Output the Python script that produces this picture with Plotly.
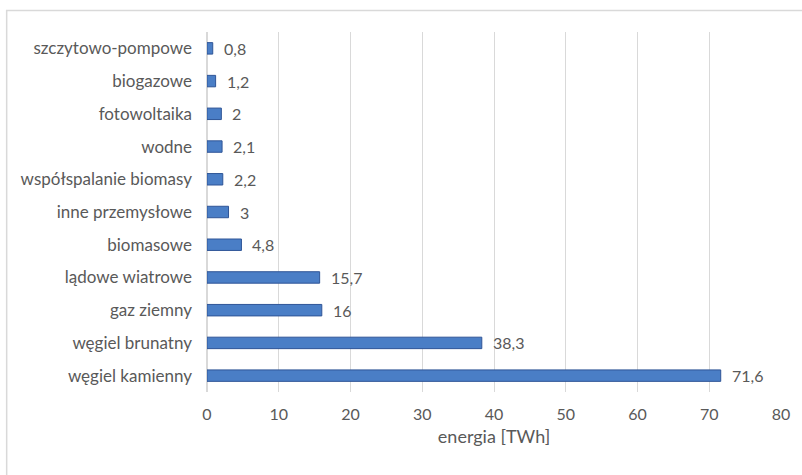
import plotly.graph_objects as go

# Energy production by source, TWh
categories = [
    "węgiel kamienny", "węgiel brunatny", "gaz ziemny", "lądowe wiatrowe",
    "biomasowe", "inne przemysłowe", "współspalanie biomasy", "wodne",
    "fotowoltaika", "biogazowe", "szczytowo-pompowe",
]
values = [71.6, 38.3, 16, 15.7, 4.8, 3, 2.2, 2.1, 2, 1.2, 0.8]
value_labels = ["71,6", "38,3", "16", "15,7", "4,8", "3", "2,2", "2,1", "2", "1,2", "0,8"]
x_ticks = [0, 10, 20, 30, 40, 50, 60, 70, 80]

FONT = "Lato, Carlito, 'Open Sans', sans-serif"
TEXT = "#595959"

fig = go.Figure(
    go.Bar(
        x=values,
        y=categories,
        orientation="h",
        width=0.35,
        marker=dict(color="#4A7EC6", line=dict(color="#2F5597", width=1)),
        hoverinfo="x+y",
    )
)

# value labels just right of each bar end
annotations = [
    dict(
        x=v, y=c, xref="x", yref="y", text=t, showarrow=False,
        xanchor="left", yanchor="middle", xshift=9,
        font=dict(family=FONT, size=16, color=TEXT),
    )
    for c, v, t in zip(categories, values, value_labels)
]

fig.update_layout(
    width=802,
    height=475,
    margin=dict(l=207, r=19, t=32, b=83),
    paper_bgcolor="white",
    plot_bgcolor="white",
    showlegend=False,
    font=dict(family=FONT, size=16, color=TEXT),
    annotations=annotations,
    xaxis=dict(
        range=[0, 80],
        tickvals=x_ticks,
        showgrid=True,
        gridcolor="#D9D9D9",
        gridwidth=1,
        zeroline=True,
        zerolinecolor="#D9D9D9",
        ticks="",
        ticklabelstandoff=11,
        title=dict(text="energia [TWh]", standoff=8, font=dict(family=FONT, size=18, color=TEXT)),
        tickfont=dict(family=FONT, size=16, color=TEXT),
    ),
    yaxis=dict(
        categoryorder="array",
        categoryarray=categories,
        showgrid=False,
        ticks="",
        ticklabelstandoff=14,
        tickfont=dict(family=FONT, size=17, color=TEXT),
    ),
    shapes=[
        dict(
            type="rect", xref="paper", yref="paper",
            x0=-0.349, x1=1.2, y0=-0.4, y1=1.06,
            line=dict(color="#D9D9D9", width=1.5),
            fillcolor="rgba(0,0,0,0)", layer="below",
        )
    ],
)

fig.write_html("out.html")
